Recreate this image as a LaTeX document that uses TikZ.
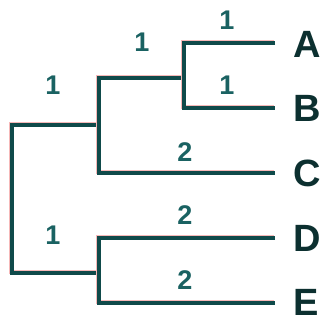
\documentclass[tikz,border=0pt]{standalone}
\usepackage{fontspec}
\setmainfont{Liberation Sans}
\definecolor{linecol}{HTML}{0F4A4A}
\definecolor{numcol}{HTML}{1A6262}
\definecolor{letcol}{HTML}{0C3030}
\definecolor{shadowcol}{HTML}{F6B8B8}
\begin{document}
\begin{tikzpicture}[x=1pt,y=-1pt,
  branch/.style={draw=linecol, line width=4pt, line join=miter, line cap=butt,
    preaction={draw=shadowcol, line width=4pt, transform canvas={shift={(-1pt,0.8pt)}}}},
  weight/.style={text=numcol, font=\bfseries\fontsize{27}{27}\selectfont, inner sep=0pt},
  leaf/.style={text=letcol, font=\bfseries\fontsize{38}{38}\selectfont, inner sep=0pt, anchor=west}]
\useasboundingbox (0,0) rectangle (324,323);
\fill[white] (0,0) rectangle (324,323);
% internal junctions
\coordinate (r)  at (12,199);
\coordinate (n1) at (99,125);
\coordinate (n2) at (99,273);
\coordinate (n3) at (184,78);
% leaf ends
\coordinate (a) at (275,43);
\coordinate (b) at (275,108);
\coordinate (c) at (275,173);
\coordinate (d) at (275,238);
\coordinate (e) at (275,303);
% branches
\draw[branch] (n1) -| (r) |- (n2);
\draw[branch] (n3) -| (n1) |- (c);
\draw[branch] (a) -| (n3) |- (b);
\draw[branch] (d) -| (n2) |- (e);
% leaf labels
\node[leaf] (A) at (293,44) {A};
\node[leaf] (B) at (293,108) {B};
\node[leaf] (C) at (293,173) {C};
\node[leaf] (D) at (293,238) {D};
\node[leaf] (E) at (293,302) {E};
% branch weights
\node[weight] (wA)  at (227,20)  {1};
\node[weight] (w3)  at (142,42)  {1};
\node[weight] (wB)  at (227,85)  {1};
\node[weight] (w1)  at (53,85)   {1};
\node[weight] (wC)  at (185,152) {2};
\node[weight] (wD)  at (185,215) {2};
\node[weight] (w2)  at (53,235)  {1};
\node[weight] (wE)  at (185,280) {2};
\end{tikzpicture}
\end{document}
